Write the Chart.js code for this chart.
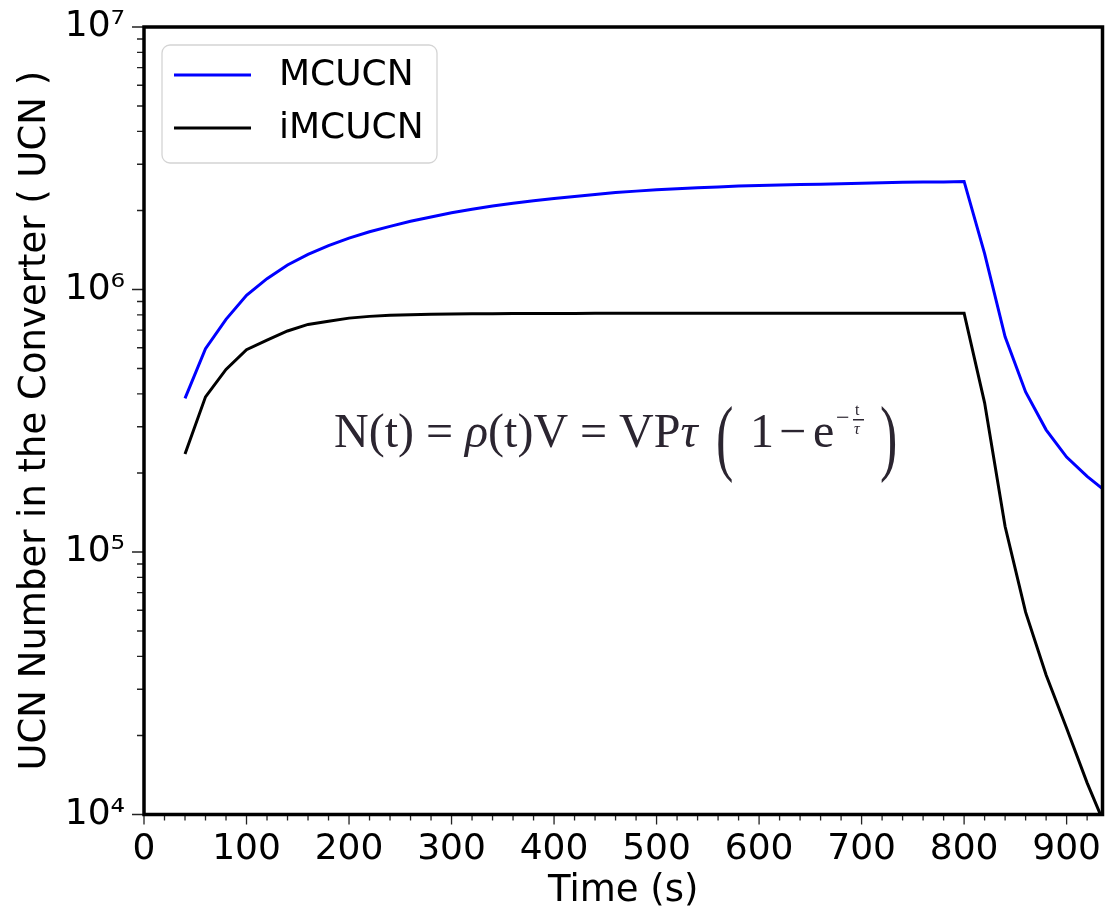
<!DOCTYPE html>
<html>
<head>
<meta charset="utf-8">
<script src="https://cdn.jsdelivr.net/npm/chart.js@4.4.0/dist/chart.umd.min.js"></script>
<style>
  html, body { margin: 0; padding: 0; background: #fff; }
  #wrap { width: 1107px; height: 914px; }
</style>
</head>
<body>
<div id="wrap"><canvas id="ucnChart" width="1107" height="914"></canvas></div>
<script>
// time samples (s)
const times = [40, 60, 80, 100, 120, 140, 160, 180, 200, 220, 240, 260, 280, 300, 320, 340,
  360, 380, 400, 420, 440, 460, 480, 500, 520, 540, 560, 580, 600, 620, 640, 660, 680, 700,
  720, 740, 760, 780, 800, 820, 840, 860, 880, 900, 920, 940];

// UCN number
const mcucn = [3.85e5, 5.95e5, 7.7e5, 9.5e5, 1.10e6, 1.24e6, 1.36e6, 1.47e6, 1.57e6, 1.66e6,
  1.74e6, 1.82e6, 1.89e6, 1.96e6, 2.02e6, 2.08e6, 2.13e6, 2.18e6, 2.22e6, 2.26e6, 2.30e6,
  2.34e6, 2.37e6, 2.40e6, 2.42e6, 2.44e6, 2.46e6, 2.48e6, 2.49e6, 2.50e6, 2.51e6, 2.52e6,
  2.53e6, 2.54e6, 2.55e6, 2.56e6, 2.565e6, 2.57e6, 2.58e6,
  1.37e6, 6.6e5, 4.07e5, 2.92e5, 2.3e5, 1.94e5, 1.68e5];
const imcucn = [2.36e5, 3.9e5, 4.96e5, 5.9e5, 6.42e5, 6.95e5, 7.36e5, 7.57e5, 7.78e5, 7.9e5,
  7.97e5, 8.02e5, 8.05e5, 8.07e5, 8.08e5, 8.09e5, 8.1e5, 8.1e5, 8.11e5, 8.11e5, 8.12e5,
  8.12e5, 8.12e5, 8.12e5, 8.12e5, 8.12e5, 8.12e5, 8.12e5, 8.12e5, 8.12e5, 8.12e5, 8.12e5,
  8.12e5, 8.12e5, 8.12e5, 8.12e5, 8.12e5, 8.12e5, 8.12e5,
  3.7e5, 1.25e5, 5.9e4, 3.4e4, 2.13e4, 1.32e4, 8.6e3];

const seriesNames = ['MCUCN', 'iMCUCN'];
const xTickValues = [0, 100, 200, 300, 400, 500, 600, 700, 800, 900];
const yTickValues = [1e4, 1e5, 1e6, 1e7];

const SUP = { '4': '\u2074', '5': '\u2075', '6': '\u2076', '7': '\u2077' };
const FONT = 'DejaVu Sans';
const SERIF = 'Liberation Serif';

// =========================
// frame, minor ticks, legend box and formula
// =========================
const decorPlugin = {
  id: 'decor',
  afterDraw(chart) {
    const { ctx, chartArea: a, scales: { x, y } } = chart;
    ctx.save();

    // ticks
    ctx.strokeStyle = '#222';
    ctx.lineWidth = 1.3;
    ctx.beginPath();
    for (let v = 0; v <= x.max; v += 20) {
      const px = x.getPixelForValue(v);
      const len = v % 100 === 0 ? 10 : 6;
      ctx.moveTo(px, a.bottom); ctx.lineTo(px, a.bottom + len);
    }
    for (let e = 4; e <= 7; e++) {
      for (let m = 1; m < 10; m++) {
        const v = m * Math.pow(10, e);
        if (v > y.max) break;
        const py = y.getPixelForValue(v);
        const len = m === 1 ? 12 : 7;
        ctx.moveTo(a.left, py); ctx.lineTo(a.left - len, py);
      }
    }
    ctx.stroke();

    // frame
    ctx.strokeStyle = '#000';
    ctx.lineWidth = 3.5;
    ctx.strokeRect(a.left, a.top, a.right - a.left, a.bottom - a.top);

    // legend
    ctx.beginPath();
    ctx.roundRect(162, 45, 275, 118, 8);
    ctx.fillStyle = 'rgba(255,255,255,0.85)';
    ctx.fill();
    ctx.lineWidth = 1.3;
    ctx.strokeStyle = '#d4d4d4';
    ctx.stroke();
    const rows = [75, 128];
    chart.data.datasets.forEach((ds, i) => {
      ctx.beginPath();
      ctx.lineWidth = 3;
      ctx.strokeStyle = ds.borderColor;
      ctx.moveTo(174, rows[i]); ctx.lineTo(251, rows[i]);
      ctx.stroke();
      ctx.fillStyle = '#000';
      ctx.font = `36px "${FONT}"`;
      ctx.textBaseline = 'middle';
      ctx.textAlign = 'left';
      ctx.fillText(ds.label, 279, rows[i] + 1);
    });

    // formula N(t) = rho(t)V = VP tau (1 - e^{-t/tau})
    const up = `48px "${SERIF}"`;
    const it = `italic 48px "${SERIF}"`;
    const base = 447;
    ctx.fillStyle = '#2b2530';
    ctx.textBaseline = 'alphabetic';
    ctx.textAlign = 'left';
    const parts = [
      ['N(t) = ', up], ['\u03C1', it], ['(t)V = VP', up], ['\u03C4', it]
    ];
    let cx = 334;
    parts.forEach(([t, f]) => { ctx.font = f; ctx.fillText(t, cx, base); cx += ctx.measureText(t).width; });

    const bigParen = (ch, px) => {
      ctx.save();
      ctx.translate(px, base + 18);
      ctx.scale(0.62, 1);
      ctx.font = `84px "${SERIF}"`;
      ctx.fillText(ch, 0, 0);
      ctx.restore();
    };
    bigParen('(', 716);
    ctx.font = up;
    ctx.fillText('1', 750, base);
    ctx.fillText('\u2212', 779, base);
    ctx.fillText('e', 813, base);
    ctx.font = `24px "${SERIF}"`;
    ctx.fillText('\u2212', 836, base - 22);
    ctx.font = `16px "${SERIF}"`;
    ctx.fillText('t', 855, base - 32);
    ctx.font = `italic 16px "${SERIF}"`;
    ctx.fillText('\u03C4', 854, base - 13);
    ctx.fillRect(853, base - 28, 11, 1.5);
    bigParen(')', 880);

    ctx.restore();
  }
};

const ctx = document.getElementById('ucnChart');
new Chart(ctx.getContext('2d'), {
  type: 'line',
  data: {
    datasets: [
      {
        label: seriesNames[0],
        data: times.map((t, i) => ({ x: t, y: mcucn[i] })),
        borderColor: '#0000ff',
        borderWidth: 3,
        pointRadius: 0,
        tension: 0,
        fill: false
      },
      {
        label: seriesNames[1],
        data: times.map((t, i) => ({ x: t, y: imcucn[i] })),
        borderColor: '#000000',
        borderWidth: 3,
        pointRadius: 0,
        tension: 0,
        fill: false
      }
    ]
  },
  options: {
    responsive: false,
    animation: false,
    layout: { padding: { top: 27, right: 4.5, left: 0, bottom: 0 } },
    plugins: { legend: { display: false }, tooltip: { enabled: false } },
    scales: {
      x: {
        type: 'linear', min: 0, max: 935,
        afterBuildTicks: s => { s.ticks = xTickValues.map(v => ({ value: v })); },
        afterFit: s => { s.height = 99.5; s.paddingLeft = 0; s.paddingRight = 0; },
        grid: { display: false, drawTicks: false },
        border: { display: false },
        ticks: { font: { family: FONT, size: 36 }, color: '#000', padding: 14, maxRotation: 0, autoSkip: false },
        title: { display: true, text: 'Time (s)', font: { family: FONT, size: 37 }, color: '#000', padding: { top: 0, bottom: 0 } }
      },
      y: {
        type: 'logarithmic', min: 1e4, max: 1e7,
        afterBuildTicks: s => { s.ticks = yTickValues.map(v => ({ value: v })); },
        afterFit: s => { s.width = 144; s.paddingTop = 0; s.paddingBottom = 0; },
        grid: { display: false, drawTicks: false },
        border: { display: false },
        ticks: {
          font: { family: FONT, size: 36 }, color: '#000', padding: 19, autoSkip: false,
          callback: v => '10' + SUP[String(Math.round(Math.log10(v)))]
        },
        title: { display: true, text: 'UCN Number in the Converter ( UCN )', font: { family: FONT, size: 37 }, color: '#000', padding: { top: 13, bottom: 0 } }
      }
    }
  },
  plugins: [decorPlugin]
});
</script>
</body>
</html>
